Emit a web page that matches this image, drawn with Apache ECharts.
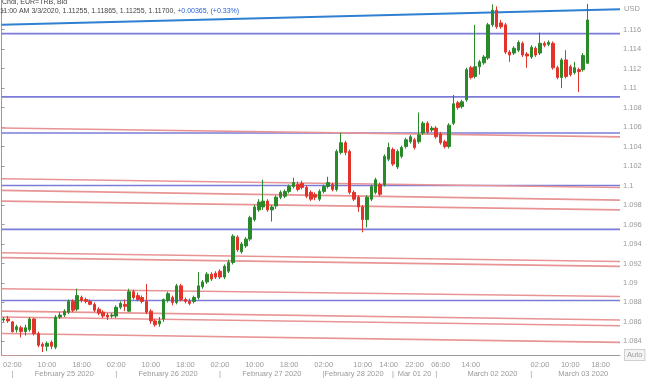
<!DOCTYPE html>
<html><head><meta charset="utf-8">
<script src="https://cdn.jsdelivr.net/npm/echarts@6/dist/echarts.min.js"></script>
<style>html,body{margin:0;padding:0;background:#fff}#c{width:650px;height:378px}</style>
</head><body><div id="c"></div>
<script>
// Hourly candles, EUR=TRB bid
const opens = [
1.0862,1.0863,1.0860,1.0852,1.0854,1.0850,1.0852,1.0863,1.0848,1.0837,
1.0835,1.0839,1.0834,1.0865,1.0867,1.0870,1.0881,1.0873,1.0885,1.0883,
1.0881,1.0878,1.0873,1.0870,1.0867,1.0866,1.0866,1.0875,1.0878,1.0871,
1.0891,1.0887,1.0885,1.0881,1.0871,1.0861,1.0858,1.0863,1.0882,1.0885,
1.0880,1.0897,1.0883,1.0881,1.0881,1.0885,1.0896,1.0901,1.0909,1.0910,
1.0912,1.0906,1.0912,1.0921,1.0947,1.0932,1.0938,1.0945,1.0965,1.0975,
1.0978,1.0984,1.0975,1.0979,1.0988,1.0989,1.0994,1.0999,1.1001,1.1002,
1.0998,1.0993,1.0991,1.0986,1.0994,1.0999,1.1001,1.0996,1.1034,1.1044,
1.1035,1.0993,1.0988,1.0978,1.0965,1.0986,1.0993,1.1001,1.1001,1.1027,
1.1037,1.1019,1.1030,1.1040,1.1045,1.1047,1.1045,1.1054,1.1064,1.1057,
1.1059,1.1053,1.1045,1.1040,1.1064,1.1085,1.1081,1.1088,1.1121,1.1112,
1.1122,1.1126,1.1131,1.1165,1.1180,1.1167,1.1165,1.1137,1.1136,1.1139,
1.1146,1.1135,1.1132,1.1141,1.1136,1.1146,1.1145,1.1146,1.1121,1.1111,
1.1129,1.1122,1.1116,1.1119,1.1119,1.11255];
const closes = [
1.0863,1.0861,1.0850,1.0855,1.0850,1.0854,1.0863,1.0848,1.0836,1.0835,
1.0838,1.0835,1.0865,1.0867,1.0871,1.0881,1.0872,1.0887,1.0882,1.0881,
1.0878,1.0872,1.0869,1.0866,1.0865,1.0867,1.0875,1.0879,1.0876,1.0891,
1.0885,1.0883,1.0881,1.0870,1.0861,1.0857,1.0861,1.0883,1.0889,1.0880,
1.0897,1.0883,1.0881,1.0879,1.0885,1.0897,1.0901,1.0909,1.0904,1.0906,
1.0906,1.0917,1.0921,1.0948,1.0934,1.0940,1.0945,1.0967,1.0978,1.0983,
1.0984,1.0975,1.0978,1.0988,1.0993,1.0994,1.0999,1.1003,1.0996,1.0998,
1.0989,1.0986,1.0988,1.0994,1.0999,1.1003,1.0996,1.1035,1.1044,1.1034,
1.0993,1.0986,1.0978,1.0965,1.0988,1.0999,1.1006,1.0991,1.1030,1.1039,
1.1022,1.1035,1.1039,1.1047,1.1050,1.1039,1.1052,1.1064,1.1055,1.1059,
1.1050,1.1044,1.1040,1.1062,1.1084,1.1080,1.1086,1.1119,1.1111,1.1122,
1.1127,1.1132,1.1165,1.1180,1.1163,1.1163,1.1137,1.1134,1.1141,1.1147,
1.1134,1.1133,1.1142,1.1134,1.1146,1.1144,1.1147,1.1121,1.1111,1.1129,
1.1112,1.1114,1.1121,1.1117,1.11335,1.11700];
const lows = [
1.0860,1.0859,1.0849,1.0849,1.0844,1.0846,1.0850,1.0846,1.0834,1.0829,
1.0830,1.0832,1.0832,1.0863,1.0865,1.0868,1.0870,1.0871,1.0880,1.0879,
1.0877,1.0870,1.0867,1.0864,1.0862,1.0864,1.0864,1.0873,1.0871,1.0870,
1.0883,1.0881,1.0879,1.0868,1.0858,1.0855,1.0855,1.0860,1.0880,1.0877,
1.0878,1.0881,1.0879,1.0877,1.0879,1.0883,1.0894,1.0899,1.0902,1.0904,
1.0904,1.0904,1.0910,1.0919,1.0932,1.0930,1.0936,1.0943,1.0963,1.0973,
1.0975,1.0973,1.0963,1.0976,1.0986,1.0987,1.0992,1.0997,1.0994,1.0996,
1.0987,1.0984,1.0985,1.0984,1.0992,1.0997,1.0994,1.0994,1.1032,1.1031,
1.0991,1.0984,1.0973,1.0952,1.0957,1.0984,1.0991,1.0989,1.0999,1.1025,
1.1020,1.1017,1.1028,1.1038,1.1043,1.1037,1.1043,1.1052,1.1053,1.1055,
1.1048,1.1042,1.1038,1.1038,1.1062,1.1078,1.1079,1.1086,1.1109,1.1110,
1.1114,1.1124,1.1129,1.1163,1.1161,1.1161,1.1135,1.1127,1.1134,1.1137,
1.1132,1.1121,1.1130,1.1132,1.1134,1.1142,1.1143,1.1119,1.1109,1.1100,
1.1110,1.1112,1.1114,1.1096,1.1117,1.11255];
const highs = [
1.0865,1.0866,1.0861,1.0857,1.0856,1.0857,1.0865,1.0864,1.0850,1.0839,
1.0840,1.0841,1.0867,1.0870,1.0873,1.0883,1.0883,1.0894,1.0887,1.0885,
1.0883,1.0880,1.0875,1.0872,1.0869,1.0869,1.0877,1.0881,1.0883,1.0894,
1.0893,1.0890,1.0887,1.0899,1.0873,1.0863,1.0865,1.0884,1.0891,1.0887,
1.0899,1.0899,1.0885,1.0884,1.0887,1.0911,1.0903,1.0911,1.0911,1.0912,
1.0914,1.0919,1.0924,1.0950,1.0949,1.0942,1.0947,1.0969,1.0980,1.0986,
1.1006,1.0986,1.0980,1.0990,1.0995,1.0996,1.1001,1.1008,1.1004,1.1005,
1.1000,1.0995,1.0993,1.0996,1.1001,1.1009,1.1003,1.1037,1.1054,1.1046,
1.1037,1.0995,1.0990,1.0980,1.0990,1.1001,1.1008,1.1003,1.1032,1.1044,
1.1039,1.1037,1.1041,1.1049,1.1052,1.1049,1.1075,1.1066,1.1066,1.1061,
1.1061,1.1055,1.1047,1.1064,1.1093,1.1087,1.1088,1.1121,1.1123,1.1165,
1.1129,1.1134,1.1167,1.1186,1.1184,1.1170,1.1167,1.1139,1.1143,1.1149,
1.1148,1.1137,1.1144,1.1143,1.1157,1.1148,1.1149,1.1148,1.1123,1.1131,
1.1139,1.1124,1.1127,1.1121,1.1136,1.11865];

const slotCount = 143; // hourly slots on the time axis (incl. empty space at right)

// time axis tick labels
const timeTickIdx  = [2,10,18,26,34,42,50,58,66,74,83,89,95,101,108,124,131,138];
const timeTickText = ['02:00','10:00','18:00','02:00','10:00','18:00','02:00','10:00','18:00','02:00','10:00','14:00','22:00','06:00','14:00','02:00','10:00','18:00'];
const dateIdx  = [14,38,62,81,95,113,134];
const dateText = ['February 25 2020','February 26 2020','February 27 2020','February 28 2020','Mar 01 20','March 02 2020','March 03 2020'];
const sepIdx = [2,26,50,74,90,100,122];

// horizontal levels (flat, blue)
const blueLevels = [1.1156, 1.1091, 1.1054, 1.1000, 1.0955, 1.0882];
// sloped red lines: price at left edge, price at right edge
const redStart = [1.1059, 1.1007, 1.0995, 1.0984, 1.0931, 1.0926, 1.0894, 1.0871, 1.0865, 1.0848, 1.0825];
const redEnd   = [1.1050, 1.0998, 1.0985, 1.0975, 1.0922, 1.0917, 1.0886, 1.0862, 1.0856, 1.0839, 1.0816];
// sloped trend line (bright blue)
const trendStart = [1.1165];
const trendEnd   = [1.1181];

const yMin = 1.0826, yMax = 1.11905;

const slots = Array.from({length: slotCount}, (_, i) => String(i));
const candles = opens.map((o, i) => [o, closes[i], lows[i], highs[i]]);

const series = [];
blueLevels.forEach(v => series.push({
  type: 'line', xAxisIndex: 2, yAxisIndex: 0, data: [[0, v], [1, v]],
  symbol: 'none', silent: true, z: 1, animation: false,
  lineStyle: {color: '#7b7bd8', width: 1.6}
}));
redStart.forEach((v, i) => series.push({
  type: 'line', xAxisIndex: 2, yAxisIndex: 0, data: [[0, v], [1, redEnd[i]]],
  symbol: 'none', silent: true, z: 1, animation: false,
  lineStyle: {color: '#e99494', width: 1.6}
}));
trendStart.forEach((v, i) => series.push({
  type: 'line', xAxisIndex: 2, yAxisIndex: 0, data: [[0, v], [1, trendEnd[i]]],
  symbol: 'none', silent: true, z: 1, animation: false,
  lineStyle: {color: '#2f80d2', width: 2}
}));
const last = candles.length - 1;
series.push({
  type: 'candlestick', xAxisIndex: 0, yAxisIndex: 0, data: candles, z: 3,
  barWidth: 3, animation: false,
  itemStyle: {color: '#2a8a2a', color0: '#e3342b', borderColor: '#2a8a2a', borderColor0: '#e3342b', borderWidth: 1},
  markLine: {
    symbol: 'none', silent: true, animation: false,
    lineStyle: {opacity: 0},
    data: [{yAxis: closes[last]}],
    label: {position: 'end', distance: 1, formatter: p => p.value.toFixed(5),
      backgroundColor: '#111', color: '#fff', fontWeight: 'bold', fontSize: 8,
      fontFamily: 'Liberation Sans', padding: [1, 2, 0, 2]}
  }
});

const chg = closes[last] - closes[last - 1];
const header2 = `11:00 AM 3/3/2020, ${opens[last].toFixed(5)}, ${highs[last].toFixed(5)}, ${lows[last].toFixed(5)}, ${closes[last].toFixed(5)}, `;
const header3 = `+${chg.toFixed(5)}, (+${(chg / closes[last - 1] * 100).toFixed(2)}%)`;

const chart = echarts.init(document.getElementById('c'), null, {renderer: 'canvas'});
chart.setOption({
  animation: false,
  backgroundColor: '#fff',
  grid: {left: -1, right: 30, top: 0, bottom: 22, containLabel: false},
  xAxis: [
    {type: 'category', data: slots, boundaryGap: true, position: 'bottom',
     axisLine: {lineStyle: {color: '#9a9a9a'}}, axisTick: {show: false},
     axisLabel: {interval: 0, color: '#9a9a9a', fontSize: 7.5, fontFamily: 'Liberation Sans', margin: 6,
       formatter: (v, i) => { const k = timeTickIdx.indexOf(i); return k >= 0 ? timeTickText[k] : ''; }},
     splitLine: {show: false}},
    {type: 'category', data: slots, boundaryGap: true, position: 'bottom', offset: 9,
     axisLine: {show: false}, axisTick: {show: false},
     axisLabel: {interval: 0, color: '#9a9a9a', fontSize: 7.5, fontFamily: 'Liberation Sans', margin: 6,
       formatter: (v, i) => { const k = dateIdx.indexOf(i); if (k >= 0) return dateText[k]; return sepIdx.indexOf(i) >= 0 ? '|' : ''; }},
     splitLine: {show: false}},
    {type: 'value', min: 0, max: 1, show: false}
  ],
  yAxis: [{
    type: 'value', position: 'right', min: yMin, max: yMax, splitNumber: 18, scale: true,
    axisLine: {show: true, lineStyle: {color: '#9a9a9a'}},
    axisTick: {show: true, length: 3, lineStyle: {color: '#9a9a9a'}},
    axisLabel: {color: '#9a9a9a', fontSize: 7.5, fontFamily: 'Liberation Sans', margin: 3,
      showMinLabel: false, showMaxLabel: false,
      formatter: v => (v > 1.1175 ? '' : String(+v.toFixed(4)))},
    splitLine: {show: false}
  }],
  graphic: [
    {type: 'text', left: 2, top: -1, z: 10, style: {text: 'Cndl, EUR=TRB, Bid', fill: '#444', fontSize: 7, fontFamily: 'Liberation Sans'}},
    {type: 'text', left: 0, top: 8, z: 10, style: {
      text: '{a|' + header2 + '}{b|' + header3 + '}',
      rich: {a: {fill: '#444', fontSize: 7, fontFamily: 'Liberation Sans'}, b: {fill: '#2b62d6', fontSize: 7, fontFamily: 'Liberation Sans'}}}},
    {type: 'text', left: 624, top: 5, z: 10, style: {text: 'USD', fill: '#9a9a9a', fontSize: 7.5, fontFamily: 'Liberation Sans'}},
    {type: 'text', left: 624, top: 349, z: 10, style: {text: 'Auto', fill: '#9a9a9a', fontSize: 7.5, fontFamily: 'Liberation Sans',
      backgroundColor: '#f4f4f4', borderColor: '#cfcfcf', borderWidth: 1, padding: [1, 2]}}
  ],
  series: series
});
</script></body></html>
